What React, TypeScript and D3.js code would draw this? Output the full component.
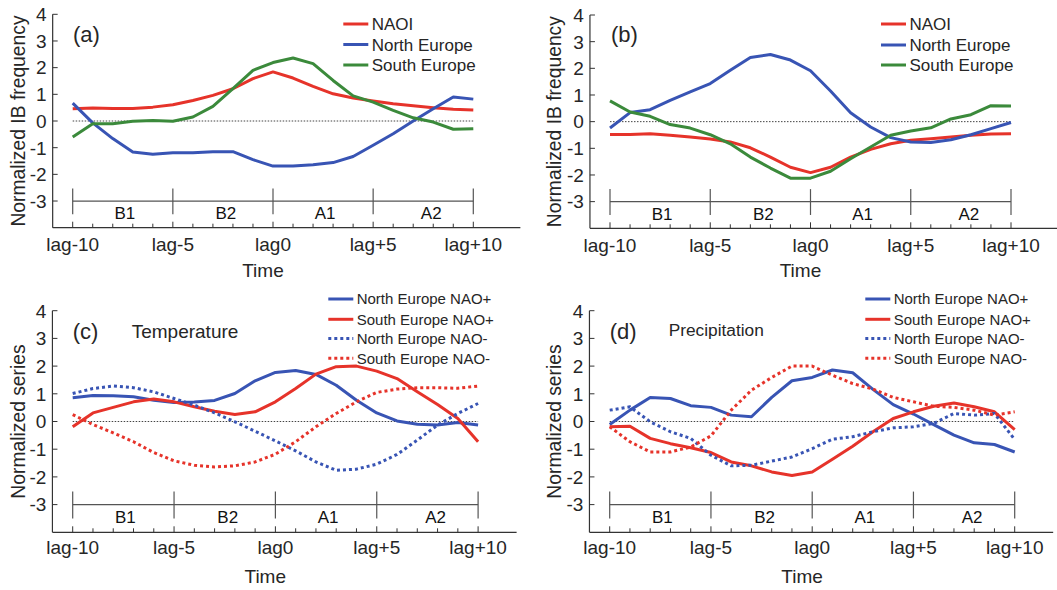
import React from 'react';
import * as d3 from 'd3';

// ---------- data ----------
const lags = [-10, -9, -8, -7, -6, -5, -4, -3, -2, -1, 0, 1, 2, 3, 4, 5, 6, 7, 8, 9, 10];
const xTickValues = [-10, -5, 0, 5, 10];
const xTickLabels = ['lag-10', 'lag-5', 'lag0', 'lag+5', 'lag+10'];
const yTickValues = [-3, -2, -1, 0, 1, 2, 3, 4];
const phaseBounds = [-10, -5, 0, 5, 10];
const phaseLabels = ['B1', 'B2', 'A1', 'A2'];
const phaseCenters = [-7.4, -2.35, 2.6, 7.9];

// (a) NAO+ IB frequency
const aNAOI = [0.46, 0.49, 0.47, 0.47, 0.52, 0.61, 0.77, 0.96, 1.21, 1.59, 1.84, 1.61, 1.30, 1.02, 0.86, 0.75, 0.65, 0.57, 0.50, 0.44, 0.41];
const aNorth = [0.67, -0.07, -0.66, -1.16, -1.25, -1.19, -1.19, -1.15, -1.15, -1.45, -1.69, -1.69, -1.64, -1.56, -1.33, -0.91, -0.48, 0.0, 0.46, 0.90, 0.82];
const aSouth = [-0.60, -0.10, -0.10, -0.01, 0.02, -0.01, 0.15, 0.55, 1.21, 1.90, 2.19, 2.36, 2.15, 1.52, 0.94, 0.71, 0.40, 0.12, -0.04, -0.31, -0.29];

// (b) NAO- IB frequency
const bNAOI = [-0.48, -0.48, -0.45, -0.51, -0.58, -0.65, -0.76, -0.98, -1.33, -1.71, -1.91, -1.71, -1.33, -1.04, -0.83, -0.70, -0.64, -0.58, -0.51, -0.46, -0.45];
const bNorth = [-0.24, 0.34, 0.45, 0.80, 1.12, 1.43, 1.93, 2.41, 2.52, 2.31, 1.91, 1.15, 0.33, -0.20, -0.60, -0.76, -0.78, -0.68, -0.49, -0.26, -0.03];
const bSouth = [0.78, 0.36, 0.20, -0.11, -0.24, -0.49, -0.83, -1.33, -1.74, -2.12, -2.12, -1.86, -1.39, -0.95, -0.51, -0.35, -0.23, 0.10, 0.26, 0.60, 0.59];

// (c) Temperature
const cNorthPos = [0.86, 0.94, 0.93, 0.89, 0.77, 0.69, 0.70, 0.76, 1.01, 1.47, 1.77, 1.84, 1.70, 1.31, 0.77, 0.31, 0.02, -0.10, -0.13, -0.04, -0.13];
const cSouthPos = [-0.19, 0.31, 0.51, 0.71, 0.81, 0.71, 0.53, 0.37, 0.25, 0.35, 0.71, 1.19, 1.71, 1.98, 2.00, 1.82, 1.55, 1.07, 0.61, 0.11, -0.73];
const cNorthNeg = [1.01, 1.19, 1.28, 1.22, 1.07, 0.83, 0.59, 0.31, -0.01, -0.35, -0.70, -1.06, -1.46, -1.76, -1.72, -1.54, -1.19, -0.67, -0.13, 0.29, 0.65];
const cSouthNeg = [0.25, -0.11, -0.41, -0.73, -1.12, -1.42, -1.58, -1.64, -1.60, -1.46, -1.18, -0.73, -0.19, 0.29, 0.71, 1.05, 1.17, 1.22, 1.22, 1.20, 1.28];

// (d) Precipitation
const dNorthPos = [-0.11, 0.41, 0.87, 0.83, 0.57, 0.51, 0.23, 0.17, 0.87, 1.47, 1.59, 1.86, 1.76, 1.16, 0.61, 0.27, -0.11, -0.49, -0.77, -0.83, -1.10];
const dSouthPos = [-0.19, -0.17, -0.61, -0.80, -0.95, -1.12, -1.46, -1.60, -1.82, -1.95, -1.82, -1.36, -0.89, -0.37, 0.11, 0.35, 0.55, 0.67, 0.53, 0.35, -0.29];
const dNorthNeg = [0.41, 0.53, -0.01, -0.37, -0.61, -1.22, -1.60, -1.58, -1.43, -1.28, -0.98, -0.64, -0.55, -0.37, -0.23, -0.19, -0.07, 0.29, 0.23, 0.29, -0.65];
const dSouthNeg = [-0.19, -0.73, -1.10, -1.10, -0.92, -0.52, 0.41, 1.13, 1.59, 2.00, 2.00, 1.67, 1.37, 1.17, 0.87, 0.71, 0.55, 0.51, 0.41, 0.23, 0.35];

const ibNames = ['NAOI', 'North Europe', 'South Europe'];
const climNames = ['North Europe NAO+', 'South Europe NAO+', 'North Europe NAO-', 'South Europe NAO-'];

// ---------- styles ----------
const RED = '#e6332a';
const BLUE = '#3854b4';
const GREEN = '#3b8a3b';
const TXT = '#262626';
const AX = '#333333';
const FONT = '"Liberation Sans", Arial, Helvetica, sans-serif';

type Series = { name: string; values: number[]; color: string; dotted: boolean };

type PanelCfg = {
  x0: number;
  pxPer: number;
  xEnd: number;
  yTop: number;
  yBot: number;
  series: Series[];
  tag: string;
  tagX: number; tagY: number;
  title?: string; titleX?: number; titleY?: number; titleSize?: number;
  ylabel: string; ylabelX: number;
  legX: number; legRows: number[]; legSize: number;
  tickBaseOff: number; timeBaseOff: number;
};

const panels: PanelCfg[] = [
  {
    x0: 72.7, pxPer: 20.03, xEnd: 12.35, yTop: 14.3, yBot: 227.7,
    series: [
      { name: ibNames[0], values: aNAOI, color: RED, dotted: false },
      { name: ibNames[1], values: aNorth, color: BLUE, dotted: false },
      { name: ibNames[2], values: aSouth, color: GREEN, dotted: false },
    ],
    tag: '(a)', tagX: 73, tagY: 42,
    ylabel: 'Normalized IB frequency', ylabelX: 25,
    legX: 343.3, legRows: [24, 44.5, 65], legSize: 17,
    tickBaseOff: 23.5, timeBaseOff: 49,
  },
  {
    x0: 610, pxPer: 20.05, xEnd: 12.4, yTop: 15, yBot: 228.3,
    series: [
      { name: ibNames[0], values: bNAOI, color: RED, dotted: false },
      { name: ibNames[1], values: bNorth, color: BLUE, dotted: false },
      { name: ibNames[2], values: bSouth, color: GREEN, dotted: false },
    ],
    tag: '(b)', tagX: 611, tagY: 42,
    ylabel: 'Normalized IB frequency', ylabelX: 561,
    legX: 881, legRows: [24, 45, 65], legSize: 17,
    tickBaseOff: 23.5, timeBaseOff: 49,
  },
  {
    x0: 72.7, pxPer: 20.27, xEnd: 11.9, yTop: 310.7, yBot: 532.3,
    series: [
      { name: climNames[0], values: cNorthPos, color: BLUE, dotted: false },
      { name: climNames[1], values: cSouthPos, color: RED, dotted: false },
      { name: climNames[2], values: cNorthNeg, color: BLUE, dotted: true },
      { name: climNames[3], values: cSouthNeg, color: RED, dotted: true },
    ],
    tag: '(c)', tagX: 72.7, tagY: 338.7,
    title: 'Temperature', titleX: 131.7, titleY: 338.3, titleSize: 19,
    ylabel: 'Normalized series', ylabelX: 24.5,
    legX: 328.3, legRows: [299, 319.3, 338.6, 358.3], legSize: 15,
    tickBaseOff: 22, timeBaseOff: 51,
  },
  {
    x0: 609.7, pxPer: 20.25, xEnd: 11.9, yTop: 310.7, yBot: 532.3,
    series: [
      { name: climNames[0], values: dNorthPos, color: BLUE, dotted: false },
      { name: climNames[1], values: dSouthPos, color: RED, dotted: false },
      { name: climNames[2], values: dNorthNeg, color: BLUE, dotted: true },
      { name: climNames[3], values: dSouthNeg, color: RED, dotted: true },
    ],
    tag: '(d)', tagX: 609.7, tagY: 338.7,
    title: 'Precipitation', titleX: 668.7, titleY: 336, titleSize: 17.3,
    ylabel: 'Normalized series', ylabelX: 561,
    legX: 865.3, legRows: [299, 319.3, 338.6, 358.3], legSize: 15,
    tickBaseOff: 22, timeBaseOff: 51,
  },
];

function Panel({ p }: { p: PanelCfg }) {
  const x = d3.scaleLinear().domain([-10, 10]).range([p.x0, p.x0 + 20 * p.pxPer]);
  const y = d3.scaleLinear().domain([-4, 4]).range([p.yBot, p.yTop]);
  const line = d3
    .line<number>()
    .x((_, i) => x(lags[i]))
    .y((v) => y(v));
  const axL = x(-11);
  const axR = x(p.xEnd);
  return (
    <g>
      <line x1={axL} x2={axL} y1={y(4)} y2={y(-4)} stroke={AX} strokeWidth={1.2} />
      <line x1={axL} x2={axR} y1={y(-4)} y2={y(-4)} stroke={AX} strokeWidth={1.2} />
      {yTickValues.map((v) => (
        <g key={'yt' + v}>
          <line x1={axL} x2={axL + 5} y1={y(v)} y2={y(v)} stroke={AX} strokeWidth={1} />
          <text x={axL - 6} y={y(v)} dy="0.36em" textAnchor="end" fontSize={19} fill={TXT} fontFamily={FONT}>
            {v}
          </text>
        </g>
      ))}
      {lags.map((v) => (
        <line key={'xt' + v} x1={x(v)} x2={x(v)} y1={y(-4)} y2={y(-4) - (v % 5 === 0 ? 6 : 4)} stroke={AX} strokeWidth={1} />
      ))}
      {xTickValues.map((v, i) => (
        <text key={'xl' + v} x={x(v)} y={y(-4) + p.tickBaseOff} textAnchor="middle" fontSize={19} fill={TXT} fontFamily={FONT}>
          {xTickLabels[i]}
        </text>
      ))}
      <text x={x(0) - 0.5 * p.pxPer} y={y(-4) + p.timeBaseOff} textAnchor="middle" fontSize={19} fill={TXT} fontFamily={FONT}>
        Time
      </text>
      <text
        transform={`translate(${p.ylabelX},${(y(4) + y(-4)) / 2}) rotate(-90)`}
        textAnchor="middle"
        fontSize={19.3}
        fill={TXT}
        fontFamily={FONT}
      >
        {p.ylabel}
      </text>

      <line x1={x(-10)} x2={x(10)} y1={y(-3)} y2={y(-3)} stroke="#555" strokeWidth={1.2} />
      {phaseBounds.map((v) => (
        <line key={'pb' + v} x1={x(v)} x2={x(v)} y1={y(-2.53)} y2={y(-3.5)} stroke="#555" strokeWidth={1.2} />
      ))}
      {phaseLabels.map((l, i) => (
        <text key={'pl' + l} x={x(phaseCenters[i])} y={y(-3.68)} textAnchor="middle" fontSize={17} fill="#111" fontFamily={FONT}>
          {l}
        </text>
      ))}

      <line x1={x(-10)} x2={x(10)} y1={y(0)} y2={y(0)} stroke="#444" strokeWidth={1} strokeDasharray="1.5,1.5" />

      {p.series.map((s) => (
        <path
          key={s.name + s.dotted}
          d={line(s.values) || ''}
          fill="none"
          stroke={s.color}
          strokeWidth={3}
          strokeDasharray={s.dotted ? '3,3' : undefined}
          strokeLinejoin="round"
        />
      ))}

      <text x={p.tagX} y={p.tagY} fontSize={22} fill={TXT} fontFamily={FONT}>
        {p.tag}
      </text>
      {p.title && (
        <text x={p.titleX} y={p.titleY} fontSize={p.titleSize} fill={TXT} fontFamily={FONT}>
          {p.title}
        </text>
      )}

      {p.series.map((s, i) => (
        <g key={'lg' + i}>
          <line
            x1={p.legX}
            x2={p.legX + 25}
            y1={p.legRows[i]}
            y2={p.legRows[i]}
            stroke={s.color}
            strokeWidth={3}
            strokeDasharray={s.dotted ? '3,3' : undefined}
          />
          <text x={p.legX + 28.4} y={p.legRows[i]} dy="0.36em" fontSize={p.legSize} fill={TXT} fontFamily={FONT}>
            {s.name}
          </text>
        </g>
      ))}
    </g>
  );
}

export default function App() {
  return (
    <svg
      width={1057}
      height={590}
      viewBox="0 0 1057 590"
      style={{ position: 'absolute', left: 0, top: 0, background: '#fff' }}
    >
      <rect x={0} y={0} width={1057} height={590} fill="#fff" />
      {panels.map((p, i) => (
        <Panel key={i} p={p} />
      ))}
    </svg>
  );
}
